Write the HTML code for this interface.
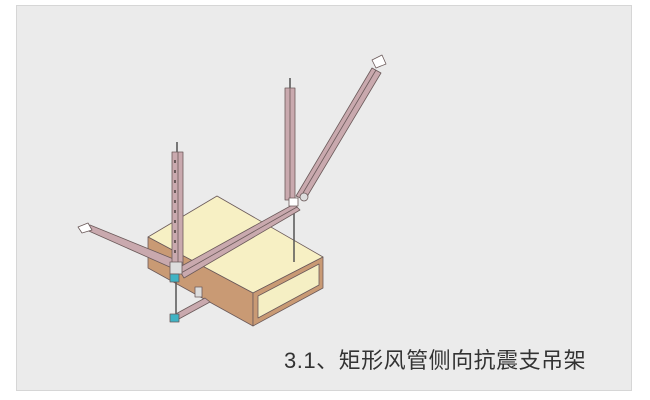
<!DOCTYPE html>
<html><head><meta charset="utf-8"><style>
body{margin:0;width:650px;height:400px;background:#fff;overflow:hidden;position:relative}
.p{position:absolute;left:16px;top:5px;width:616px;height:386px;background:#ebebeb;border:1px solid #d6d6d6;box-sizing:border-box}
.t{position:absolute;left:284px;top:343px;font:22px "Liberation Sans","Noto Sans CJK SC",sans-serif;color:#333;white-space:nowrap;letter-spacing:0.5px}
</style></head><body>
<div class="p"></div>
<svg width="650" height="400" style="position:absolute;left:0;top:0">
<g stroke="#6b5a5a" stroke-width="0.8" stroke-linejoin="round">
<polygon points="148,237 217,196 323,257 253,293" fill="#f7f0c4"/>
<polygon points="148,237 253,293 253,326 148,268" fill="#c99a74"/>
<polygon points="253,293 323,257 323,288 253,326" fill="#c99a74"/>
<polygon points="258,296 319,264 319,285 258,318" fill="#f5efc4"/>
<line x1="176" y1="265" x2="176" y2="322" stroke="#555" stroke-width="1.5"/>
<line x1="294" y1="205" x2="294" y2="262" stroke="#555" stroke-width="1.5"/>
<polygon points="172,316 205,298 210,302 177,320" fill="#c9a9ae"/>
<rect x="195" y="287" width="7" height="10" fill="#ddd"/>
<rect x="170" y="314" width="9" height="8" fill="#3fb3c4"/>
<polygon points="82,228 90,225 176,260 172,268" fill="#c9a9ae"/>
<polygon points="78,227 88,223 92,230 82,233" fill="#fff"/>
<line x1="177" y1="142" x2="177" y2="152" stroke="#777" stroke-width="2"/>
<rect x="172" y="152" width="11" height="118" fill="#c9a9ae"/>
<line x1="178" y1="152" x2="178" y2="270"/>
<g fill="#6b5a5a" stroke="none">
<rect x="174" y="160" width="2" height="3"/><rect x="174" y="170" width="2" height="3"/><rect x="174" y="180" width="2" height="3"/><rect x="174" y="190" width="2" height="3"/><rect x="174" y="200" width="2" height="3"/><rect x="174" y="210" width="2" height="3"/><rect x="174" y="220" width="2" height="3"/><rect x="174" y="230" width="2" height="3"/><rect x="174" y="240" width="2" height="3"/><rect x="174" y="250" width="2" height="3"/>
</g>
<polygon points="178,268 294,204 300,210 184,278" fill="#c9a9ae"/>
<line x1="181" y1="273" x2="297" y2="207"/>
<rect x="170" y="262" width="12" height="12" fill="#ddd"/>
<rect x="170" y="274" width="9" height="8" fill="#3fb3c4"/>
<line x1="290" y1="78" x2="290" y2="88" stroke="#777" stroke-width="2"/>
<rect x="285" y="88" width="10" height="112" fill="#c9a9ae"/>
<line x1="290" y1="88" x2="290" y2="200"/>
<polygon points="296,196 372,68 381,73 305,200" fill="#c9a9ae"/>
<line x1="300" y1="198" x2="376" y2="70"/>
<polygon points="372,60 382,55 386,64 376,68" fill="#fff"/>
<circle cx="304" cy="197" r="4" fill="#ddd"/>
<rect x="289" y="198" width="9" height="8" fill="#fff"/>
</g>
</svg>
<div class="t">3.1、矩形风管侧向抗震支吊架</div>
</body></html>
